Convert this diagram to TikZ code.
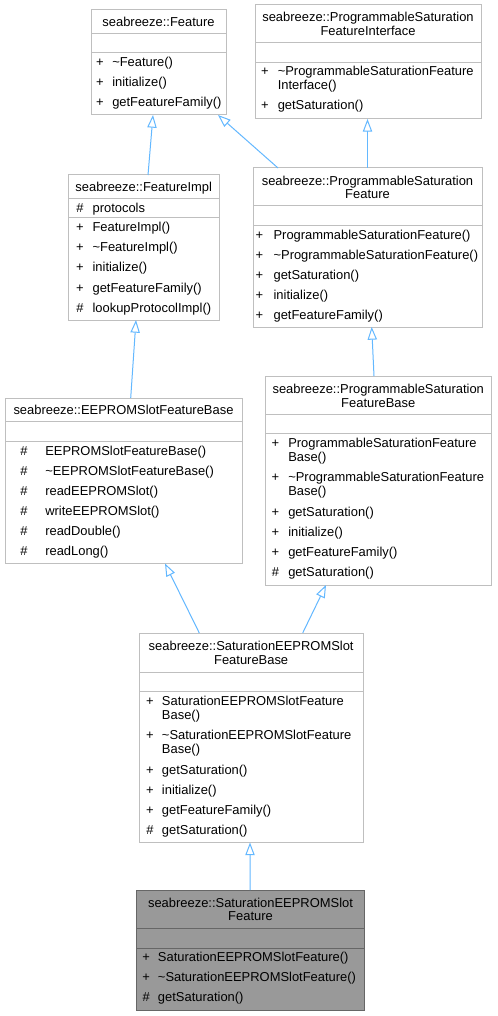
\documentclass[tikz,border=0pt]{standalone}
\usepackage{fontspec}
\setmainfont{Liberation Sans}
\usetikzlibrary{arrows.meta,fit,calc}
\definecolor{boxc}{HTML}{BFBFBF}
\definecolor{edgec}{HTML}{63B8FF}
\definecolor{hlfill}{HTML}{999999}
\definecolor{hlline}{HTML}{666666}
\newcommand\fsz{\fontsize{9.7pt}{11pt}\selectfont}
\newcounter{mc}
\newcommand\mem[5]{\stepcounter{mc}\node[sym] (s\arabic{mc}) at (#1,#3+4.5) {#4};\node[txt] (t\arabic{mc}) at (#2,#3+4.5) {#5};}
\newcommand\cont[3]{\stepcounter{mc}\node[txt] (t\arabic{mc}) at (#1,#2+4.5) {#3};}
\newcommand\ttlnode[3]{\stepcounter{mc}\node[ttl] (h\arabic{mc}) at (#1,#2+4.5) {#3};}
\tikzset{
  box/.style={draw=boxc, line width=0.75pt, fill=white, inner sep=0pt, outer sep=0pt},
  hlbox/.style={box, draw=hlline, fill=hlfill},
  txt/.style={font=\fsz, inner sep=0pt, anchor=base west},
  sym/.style={font=\fsz, inner sep=0pt, anchor=base},
  ttl/.style={font=\fsz, inner sep=0pt, anchor=base},
  divl/.style={draw=boxc, line width=0.75pt},
  hldivl/.style={draw=hlline, line width=0.75pt},
  inh/.style={draw=edgec, line width=0.75pt, -{Triangle[length=9.5pt,width=7pt,fill=white]}},
}
\begin{document}
\begin{tikzpicture}[x=0.75pt,y=-0.75pt]
\fill[white] (0,0) rectangle (497,1016);
\useasboundingbox (0,0) rectangle (497,1016);

% ---------- Feature
\node[box, fit={(91,10)(226,115)}] (feat) {};
\ttlnode{158.5}{22}{seabreeze::Feature}
\draw[divl] (91,33.5) -- (226,33.5);
\draw[divl] (91,53) -- (226,53);
\mem{100}{112}{62}{+}{\textasciitilde Feature()}
\mem{100}{112}{82}{+}{initialize()}
\mem{100}{112}{102}{+}{getFeatureFamily()}

% ---------- ProgrammableSaturationFeatureInterface
\node[box, fit={(255,5)(481,119)}] (psfi) {};
\ttlnode{368}{17.5}{seabreeze::ProgrammableSaturation}
\ttlnode{368}{31.5}{FeatureInterface}
\draw[divl] (255,43) -- (481,43);
\draw[divl] (255,62.5) -- (481,62.5);
\mem{265}{277.5}{71.5}{+}{\textasciitilde ProgrammableSaturationFeature}
\cont{277.5}{85.5}{Interface()}
\mem{265}{277.5}{105.5}{+}{getSaturation()}

% ---------- FeatureImpl
\node[box, fit={(68,175)(219.5,320)}] (fimpl) {};
\ttlnode{143.75}{187.5}{seabreeze::FeatureImpl}
\draw[divl] (68,198.5) -- (219.5,198.5);
\mem{80}{92.3}{208}{\#}{protocols}
\draw[divl] (68,217.5) -- (219.5,217.5);
\mem{80}{92.3}{227.5}{+}{FeatureImpl()}
\mem{80}{92.3}{247.5}{+}{\textasciitilde FeatureImpl()}
\mem{80}{92.3}{267.5}{+}{initialize()}
\mem{80}{92.3}{287.5}{+}{getFeatureFamily()}
\mem{80}{92.3}{307.5}{\#}{lookupProtocolImpl()}

% ---------- ProgrammableSaturationFeature
\node[box, fit={(253,168)(482,327)}] (psf) {};
\ttlnode{367.5}{181}{seabreeze::ProgrammableSaturation}
\ttlnode{367.5}{194.5}{Feature}
\draw[divl] (253,206) -- (482,206);
\draw[divl] (253,225.5) -- (482,225.5);
\mem{259.5}{273.3}{234.5}{+}{ProgrammableSaturationFeature()}
\mem{259.5}{273.3}{254.5}{+}{\textasciitilde ProgrammableSaturationFeature()}
\mem{259.5}{273.3}{274.5}{+}{getSaturation()}
\mem{259.5}{273.3}{294.5}{+}{initialize()}
\mem{259.5}{273.3}{314.5}{+}{getFeatureFamily()}

% ---------- EEPROMSlotFeatureBase
\node[box, fit={(5,398)(242,563.5)}] (eeb) {};
\ttlnode{123.5}{410}{seabreeze::EEPROMSlotFeatureBase}
\draw[divl] (5,421.5) -- (242,421.5);
\draw[divl] (5,441) -- (242,441);
\mem{24}{45}{450.5}{\#}{EEPROMSlotFeatureBase()}
\mem{24}{45}{470.5}{\#}{\textasciitilde EEPROMSlotFeatureBase()}
\mem{24}{45}{490.5}{\#}{readEEPROMSlot()}
\mem{24}{45}{510.5}{\#}{writeEEPROMSlot()}
\mem{24}{45}{530.5}{\#}{readDouble()}
\mem{24}{45}{550.5}{\#}{readLong()}

% ---------- ProgrammableSaturationFeatureBase
\node[box, fit={(265.5,376)(491,585)}] (psfb) {};
\ttlnode{378.25}{388.5}{seabreeze::ProgrammableSaturation}
\ttlnode{378.25}{402.5}{FeatureBase}
\draw[divl] (265.5,414) -- (491,414);
\draw[divl] (265.5,433.5) -- (491,433.5);
\mem{275.5}{288}{442.5}{+}{ProgrammableSaturationFeature}
\cont{288}{456.5}{Base()}
\mem{275.5}{288}{477}{+}{\textasciitilde ProgrammableSaturationFeature}
\cont{288}{491}{Base()}
\mem{275.5}{288}{512}{+}{getSaturation()}
\mem{275.5}{288}{532}{+}{initialize()}
\mem{275.5}{288}{552}{+}{getFeatureFamily()}
\mem{275.5}{288}{572}{\#}{getSaturation()}

% ---------- SaturationEEPROMSlotFeatureBase
\node[box, fit={(139,633)(363.3,842.5)}] (sfb) {};
\ttlnode{251.15}{646}{seabreeze::SaturationEEPROMSlot}
\ttlnode{251.15}{660}{FeatureBase}
\draw[divl] (139,672) -- (363.3,672);
\draw[divl] (139,691.5) -- (363.3,691.5);
\mem{150}{161.7}{700.5}{+}{SaturationEEPROMSlotFeature}
\cont{161.7}{714.5}{Base()}
\mem{150}{161.7}{735}{+}{\textasciitilde SaturationEEPROMSlotFeature}
\cont{161.7}{749}{Base()}
\mem{150}{161.7}{769.5}{+}{getSaturation()}
\mem{150}{161.7}{789.5}{+}{initialize()}
\mem{150}{161.7}{809.5}{+}{getFeatureFamily()}
\mem{150}{161.7}{829.5}{\#}{getSaturation()}

% ---------- SaturationEEPROMSlotFeature (highlighted)
\node[hlbox, fit={(136.7,890)(364.3,1010)}] (sf) {};
\ttlnode{250.5}{903.3}{seabreeze::SaturationEEPROMSlot}
\ttlnode{250.5}{916}{Feature}
\draw[hldivl] (136.7,928.3) -- (364.3,928.3);
\draw[hldivl] (136.7,948.3) -- (364.3,948.3);
\mem{146.2}{157.7}{957.3}{+}{SaturationEEPROMSlotFeature()}
\mem{146.2}{157.7}{977.3}{+}{\textasciitilde SaturationEEPROMSlotFeature()}
\mem{146.2}{157.7}{997.3}{\#}{getSaturation()}

% ---------- inheritance connectors
\draw[inh] ($(fimpl.north)+(4.25,0)$) -- ($(feat.south)+(-5.5,0)$);
\draw[inh] ($(psf.north)+(-89.5,0)$) -- ($(feat.south)+(59.5,0)$);
\draw[inh] ($(psf.north)+(0,0)$) -- ($(psfi.south)+(-0.5,0)$);
\draw[inh] ($(eeb.north)+(7.2,0)$) -- ($(fimpl.south)+(-7.75,0)$);
\draw[inh] ($(psfb.north)+(-4.25,0)$) -- ($(psf.south)+(4.2,0)$);
\draw[inh] ($(sfb.north)+(-51.85,0)$) -- ($(eeb.south)+(41.5,0)$);
\draw[inh] ($(sfb.north)+(51.55,0)$) -- ($(psfb.south)+(-52.25,0)$);
\draw[inh] ($(sf.north)+(-0.5,0)$) -- ($(sfb.south)+(-1.15,0)$);
\end{tikzpicture}
\end{document}
